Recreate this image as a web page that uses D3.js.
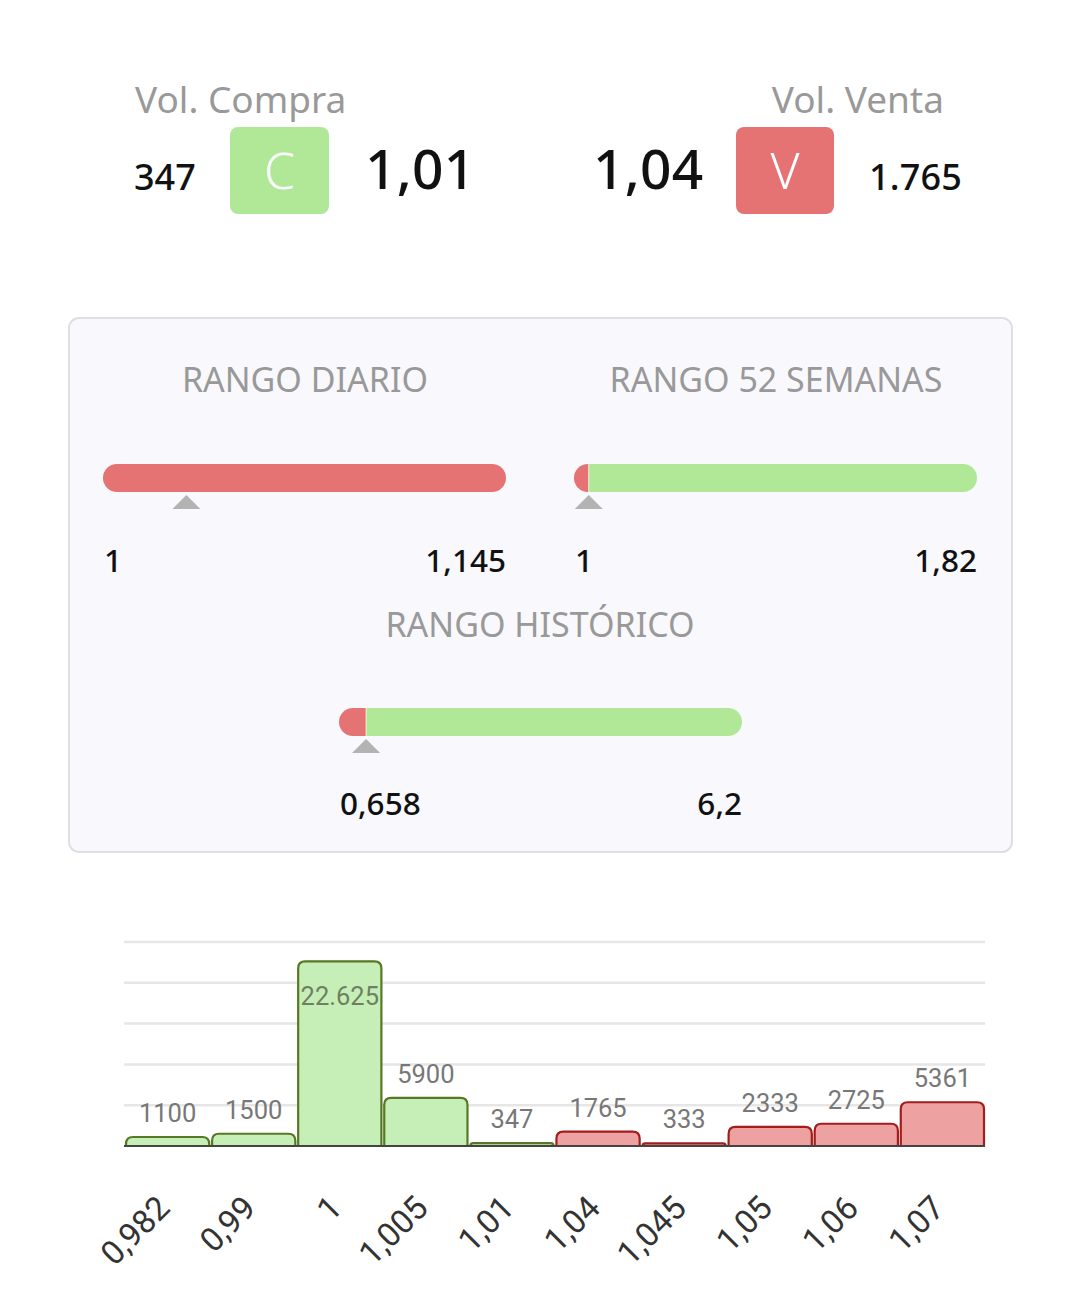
<!DOCTYPE html>
<html><head><meta charset="utf-8">
<script src="https://cdn.jsdelivr.net/npm/d3@7"></script>
<style>html,body{margin:0;padding:0;background:#fff;}svg{display:block;}</style>
</head><body>
<svg id="c" width="1080" height="1289"></svg>
<script>
// ---- data ----
const buyVolume = "347";
const buyPrice = "1,01";
const sellPrice = "1,04";
const sellVolume = "1.765";
const rangeTitles = ["RANGO DIARIO", "RANGO 52 SEMANAS", "RANGO HISTÓRICO"];
const rangeMin = [1, 1, 0.658];
const rangeMax = [1.145, 1.82, 6.2];
const rangeMinLabels = ["1", "1", "0,658"];
const rangeMaxLabels = ["1,145", "1,82", "6,2"];
const rangeMarker = [1.03, 1.03, 1.03];
const rangeRedEnd = [1.145, 1.03, 1.03];
const bookPrices = ["0,982", "0,99", "1", "1,005", "1,01", "1,04", "1,045", "1,05", "1,06", "1,07"];
const bookVolumes = [1100, 1500, 22625, 5900, 347, 1765, 333, 2333, 2725, 5361];
const bookSide = ["C","C","C","C","C","V","V","V","V","V"];
const yTicks = [0, 5000, 10000, 15000, 20000, 25000];

const svg = d3.select("#c");
const OS = "'Noto Sans', 'Open Sans', sans-serif";
const RB = "Roboto, sans-serif";
const GREEN = "#b0e898", RED = "#e57373";

// ---- top quotes ----
const head = svg.append("g");
head.append("text").attr("x",135).attr("y",113).attr("font-family",OS).attr("font-size",37).attr("fill","#999").text("Vol. Compra");
head.append("text").attr("x",944).attr("y",113).attr("text-anchor","end").attr("font-family",OS).attr("font-size",37).attr("fill","#999").text("Vol. Venta");
head.append("text").attr("x",134).attr("y",190).attr("font-family",OS).attr("font-size",36).attr("font-weight",500).attr("fill","#111").text(buyVolume);
head.append("rect").attr("x",230).attr("y",127).attr("width",99).attr("height",87).attr("rx",8).attr("fill",GREEN);
head.append("text").attr("x",279.5).attr("y",189).attr("text-anchor","middle").attr("font-family",OS).attr("font-weight",300).attr("font-size",50).attr("fill","#fff").text("C");
head.append("text").attr("x",365).attr("y",189).attr("font-family",OS).attr("font-size",55).attr("font-weight",500).attr("letter-spacing",0.3).attr("fill","#111").text(buyPrice);
head.append("text").attr("x",593).attr("y",189).attr("font-family",OS).attr("font-size",55).attr("font-weight",500).attr("letter-spacing",0.3).attr("fill","#111").text(sellPrice);
head.append("rect").attr("x",736).attr("y",127).attr("width",98).attr("height",87).attr("rx",8).attr("fill",RED);
head.append("text").attr("x",785).attr("y",189).attr("text-anchor","middle").attr("font-family",OS).attr("font-weight",300).attr("font-size",50).attr("fill","#fff").text("V");
head.append("text").attr("x",869).attr("y",190).attr("font-family",OS).attr("font-size",36).attr("font-weight",500).attr("letter-spacing",0.2).attr("fill","#111").text(sellVolume);

// ---- range panel ----
svg.append("rect").attr("x",69).attr("y",318).attr("width",943).attr("height",534).attr("rx",10)
  .attr("fill","#f8f8fd").attr("stroke","#dedee4").attr("stroke-width",2);

const rangeLayout = [
  {x0:103, x1:506, titleX:305, titleY:392, barY:464, labelY:572},
  {x0:574, x1:977, titleX:776, titleY:392, barY:464, labelY:572},
  {x0:339, x1:742, titleX:540, titleY:637, barY:708, labelY:815}
];
const defs = svg.append("defs");
rangeTitles.forEach((t,i)=>{
  const L = rangeLayout[i];
  const g = svg.append("g");
  const sx = d3.scaleLinear().domain([rangeMin[i], rangeMax[i]]).range([L.x0, L.x1]);
  g.append("text").attr("x",L.titleX).attr("y",L.titleY).attr("text-anchor","middle")
    .attr("font-family",OS).attr("font-size",34).attr("fill","#999").text(t);
  const h = 28;
  defs.append("clipPath").attr("id","rc"+i).append("rect")
    .attr("x",L.x0).attr("y",L.barY).attr("width",L.x1-L.x0).attr("height",h).attr("rx",h/2);
  const bg = g.append("g").attr("clip-path","url(#rc"+i+")");
  const redEndX = sx(rangeRedEnd[i]);
  bg.append("rect").attr("x",L.x0).attr("y",L.barY).attr("width",redEndX-L.x0).attr("height",h).attr("fill",RED);
  if (redEndX < L.x1) {
    bg.append("rect").attr("x",redEndX).attr("y",L.barY).attr("width",L.x1-redEndX).attr("height",h).attr("fill",GREEN);
    bg.append("line").attr("x1",redEndX).attr("x2",redEndX).attr("y1",L.barY).attr("y2",L.barY+h).attr("stroke","#fff").attr("stroke-width",1).attr("opacity",0.7);
  }
  const mx = sx(rangeMarker[i]);
  const ty = L.barY + h + 3;
  g.append("path").attr("d",`M${mx-14},${ty+14}L${mx},${ty}L${mx+14},${ty+14}Z`).attr("fill","#b3b3b3");
  g.append("text").attr("x",L.x0+1).attr("y",L.labelY).attr("font-family",OS).attr("font-size",31.5).attr("font-weight",500).attr("fill","#111").text(rangeMinLabels[i]);
  g.append("text").attr("x",L.x1).attr("y",L.labelY).attr("text-anchor","end").attr("font-family",OS).attr("font-size",31.5).attr("font-weight",500).attr("fill","#111").text(rangeMaxLabels[i]);
});

// ---- order book bar chart ----
const x = d3.scaleBand().domain(bookPrices).range([125, 985]).paddingInner(0.01).paddingOuter(0);
const y = d3.scaleLinear().domain([0, 25000]).range([1146, 942]);
const chart = svg.append("g");
chart.selectAll("line.grid").data(yTicks.slice(1)).join("line").attr("class","grid")
  .attr("x1",124).attr("x2",985).attr("y1",d=>y(d)).attr("y2",d=>y(d))
  .attr("stroke","#e6e6e6").attr("stroke-width",2.5);

function topRounded(x0, y0, w, h, r) {
  r = Math.min(r, h, w/2);
  return `M${x0},${y0+h}L${x0},${y0+r}Q${x0},${y0} ${x0+r},${y0}L${x0+w-r},${y0}Q${x0+w},${y0} ${x0+w},${y0+r}L${x0+w},${y0+h}`;
}
const bars = bookPrices.map((p,i)=>({p, v:bookVolumes[i], s:bookSide[i]}));
chart.selectAll("path.bar").data(bars).join("path").attr("class","bar")
  .attr("d", d => topRounded(x(d.p)+1, y(d.v), x.bandwidth()-2, y(0)-y(d.v), 7))
  .attr("fill", d => d.s==="C" ? "#c6efb8" : "#eda1a1")
  .attr("stroke", d => d.s==="C" ? "#577824" : "#a31d1d")
  .attr("stroke-width", 2.2);
const maxV = d3.max(bookVolumes);
const fmt = v => v >= 10000 ? d3.format(",")(v).replace(/,/g,".") : String(v);
chart.selectAll("text.val").data(bars).join("text").attr("class","val")
  .attr("x", d => x(d.p) + x.bandwidth()/2)
  .attr("y", d => d.v === maxV ? y(d.v) + 35 : y(d.v) - 24)
  .attr("dominant-baseline","central").attr("text-anchor","middle")
  .attr("font-family",RB).attr("font-size",25.5).attr("fill", d => d.v===maxV ? "#6f7f62" : "#777")
  .text(d => fmt(d.v));
// baseline
chart.append("line").attr("x1",124).attr("x2",985).attr("y1",y(0)).attr("y2",y(0)).attr("stroke","#444").attr("stroke-width",2);
// axis labels
const ax = chart.append("g").attr("transform","translate(0,1210)")
  .call(d3.axisBottom(x).tickSize(0).tickPadding(0));
ax.select(".domain").remove();
ax.selectAll(".tick text")
  .attr("transform","translate(4,0) rotate(-45)")
  .attr("y",0).attr("dy",0).attr("text-anchor","end")
  .attr("font-family",RB).attr("font-size",33).attr("fill","#333");
</script>
</body></html>
